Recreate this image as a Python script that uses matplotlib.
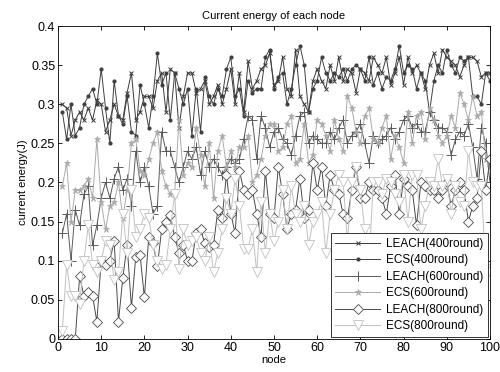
import numpy as np
import matplotlib
matplotlib.use('Agg')
import matplotlib.pyplot as plt
from matplotlib.ticker import FuncFormatter

plt.rcParams['font.family'] = ['Liberation Sans', 'DejaVu Sans']

node = np.arange(1, 101)

leach_400 = [0.30, 0.295, 0.26, 0.28, 0.29, 0.28, 0.295, 0.28, 0.305, 0.30,
             0.265, 0.28, 0.30, 0.285, 0.28, 0.315, 0.34, 0.28, 0.29, 0.31,
             0.31, 0.295, 0.33, 0.34, 0.29, 0.345, 0.34, 0.27, 0.31, 0.34,
             0.34, 0.315, 0.32, 0.33, 0.30, 0.31, 0.325, 0.30, 0.32, 0.345,
             0.30, 0.34, 0.29, 0.355, 0.32, 0.33, 0.345, 0.35, 0.365, 0.325,
             0.33, 0.36, 0.32, 0.31, 0.37, 0.31, 0.30, 0.29, 0.33, 0.345,
             0.33, 0.32, 0.35, 0.33, 0.36, 0.33, 0.345, 0.34, 0.315, 0.345,
             0.34, 0.33, 0.36, 0.35, 0.34, 0.36, 0.325, 0.34, 0.36, 0.325,
             0.36, 0.34, 0.35, 0.34, 0.32, 0.35, 0.365, 0.34, 0.37, 0.36,
             0.355, 0.35, 0.335, 0.35, 0.36, 0.36, 0.355, 0.335, 0.34, 0.34]

ecs_400 = [0.29, 0.255, 0.30, 0.26, 0.27, 0.30, 0.31, 0.32, 0.30, 0.345,
           0.295, 0.25, 0.33, 0.285, 0.275, 0.31, 0.265, 0.26, 0.325, 0.30,
           0.27, 0.31, 0.365, 0.325, 0.34, 0.28, 0.34, 0.32, 0.30, 0.32,
           0.26, 0.32, 0.265, 0.335, 0.31, 0.30, 0.32, 0.31, 0.345, 0.36,
           0.31, 0.32, 0.285, 0.33, 0.315, 0.32, 0.32, 0.36, 0.37, 0.32,
           0.335, 0.34, 0.30, 0.32, 0.35, 0.375, 0.35, 0.29, 0.32, 0.33,
           0.36, 0.34, 0.33, 0.34, 0.335, 0.345, 0.33, 0.345, 0.35, 0.345,
           0.33, 0.36, 0.325, 0.34, 0.32, 0.335, 0.33, 0.345, 0.375, 0.34,
           0.35, 0.345, 0.32, 0.34, 0.33, 0.29, 0.33, 0.35, 0.34, 0.37,
           0.35, 0.34, 0.36, 0.355, 0.36, 0.31, 0.31, 0.30, 0.34, 0.33]

leach_600 = [0.135, 0.16, 0.10, 0.165, 0.145, 0.185, 0.195, 0.12, 0.145, 0.18,
             0.20, 0.18, 0.205, 0.22, 0.19, 0.205, 0.17, 0.24, 0.20, 0.22,
             0.195, 0.16, 0.17, 0.265, 0.24, 0.24, 0.22, 0.20, 0.22, 0.24,
             0.23, 0.245, 0.21, 0.24, 0.22, 0.23, 0.22, 0.21, 0.22, 0.23,
             0.225, 0.23, 0.255, 0.285, 0.28, 0.23, 0.285, 0.27, 0.245, 0.265,
             0.27, 0.255, 0.25, 0.235, 0.26, 0.285, 0.29, 0.25, 0.26, 0.255,
             0.25, 0.25, 0.265, 0.255, 0.27, 0.28, 0.25, 0.26, 0.265, 0.275,
             0.25, 0.225, 0.26, 0.25, 0.255, 0.26, 0.27, 0.255, 0.265, 0.28,
             0.285, 0.27, 0.275, 0.265, 0.265, 0.29, 0.28, 0.27, 0.27, 0.265,
             0.235, 0.255, 0.265, 0.26, 0.275, 0.245, 0.205, 0.27, 0.25, 0.20]

ecs_600 = [0.195, 0.225, 0.15, 0.19, 0.19, 0.195, 0.205, 0.18, 0.255, 0.175,
           0.14, 0.17, 0.175, 0.20, 0.155, 0.19, 0.25, 0.255, 0.215, 0.21,
           0.23, 0.25, 0.265, 0.215, 0.195, 0.185, 0.185, 0.28, 0.21, 0.225,
           0.22, 0.27, 0.235, 0.195, 0.25, 0.18, 0.24, 0.26, 0.22, 0.24,
           0.22, 0.245, 0.245, 0.26, 0.20, 0.21, 0.23, 0.26, 0.275, 0.275,
           0.24, 0.245, 0.275, 0.285, 0.225, 0.23, 0.275, 0.225, 0.235, 0.28,
           0.275, 0.26, 0.24, 0.28, 0.255, 0.24, 0.31, 0.295, 0.265, 0.25,
           0.285, 0.295, 0.255, 0.25, 0.27, 0.285, 0.23, 0.26, 0.245, 0.225,
           0.29, 0.25, 0.285, 0.29, 0.255, 0.295, 0.28, 0.26, 0.25, 0.26,
           0.285, 0.27, 0.315, 0.30, 0.28, 0.31, 0.285, 0.29, 0.23, 0.22]

leach_800 = [0.0, 0.0, 0.0, 0.0, 0.08, 0.055, 0.06, 0.055, 0.022, 0.10,
             0.095, 0.10, 0.125, 0.022, 0.078, 0.12, 0.04, 0.105, 0.107, 0.053,
             0.13, 0.122, 0.093, 0.14, 0.15, 0.158, 0.13, 0.11, 0.12, 0.10,
             0.10, 0.135, 0.14, 0.122, 0.118, 0.12, 0.165, 0.155, 0.21, 0.16,
             0.135, 0.215, 0.19, 0.185, 0.19, 0.16, 0.13, 0.215, 0.16, 0.155,
             0.22, 0.185, 0.14, 0.16, 0.165, 0.205, 0.155, 0.165, 0.225, 0.19,
             0.22, 0.17, 0.21, 0.19, 0.185, 0.16, 0.155, 0.19, 0.22, 0.18,
             0.18, 0.20, 0.19, 0.19, 0.18, 0.16, 0.195, 0.21, 0.16, 0.205,
             0.195, 0.19, 0.145, 0.20, 0.195, 0.19, 0.19, 0.18, 0.19, 0.20,
             0.17, 0.19, 0.20, 0.19, 0.15, 0.17, 0.18, 0.24, 0.19, 0.23]

ecs_800 = [0.01, 0.095, 0.055, 0.055, 0.045, 0.10, 0.145, 0.095, 0.085, 0.10,
           0.125, 0.12, 0.075, 0.085, 0.16, 0.11, 0.19, 0.13, 0.14, 0.16,
           0.155, 0.12, 0.10, 0.09, 0.095, 0.14, 0.185, 0.09, 0.14, 0.12,
           0.125, 0.13, 0.11, 0.10, 0.13, 0.085, 0.11, 0.14, 0.18, 0.16,
           0.205, 0.17, 0.115, 0.115, 0.14, 0.085, 0.175, 0.11, 0.16, 0.125,
           0.15, 0.19, 0.14, 0.195, 0.16, 0.15, 0.17, 0.12, 0.15, 0.16,
           0.175, 0.11, 0.16, 0.19, 0.21, 0.20, 0.125, 0.20, 0.22, 0.19,
           0.14, 0.10, 0.20, 0.20, 0.185, 0.205, 0.20, 0.185, 0.175, 0.21,
           0.15, 0.21, 0.21, 0.14, 0.17, 0.20, 0.195, 0.23, 0.195, 0.205,
           0.16, 0.195, 0.175, 0.17, 0.24, 0.20, 0.195, 0.195, 0.09, 0.085]

fig = plt.figure(figsize=(5.0, 3.72), dpi=100)
ax = fig.add_axes([0.116, 0.089, 0.864, 0.841])

lw = 0.7
ax.plot(node, leach_400, color='#3a3a3a', lw=lw, marker='x', ms=3.5, mew=0.7,
        label='LEACH(400round)')
ax.plot(node, ecs_400, color='#404040', lw=lw, marker='.', ms=4,
        label='ECS(400round)')
ax.plot(node, leach_600, color='#5a5a5a', lw=lw, marker='+', ms=7, mew=0.7,
        label='LEACH(600round)')
ax.plot(node, ecs_600, color='#aaaaaa', lw=lw, marker='*', ms=5, mew=0.5,
        label='ECS(600round)')
ax.plot(node, leach_800, color='#4a4a4a', lw=lw, marker='D', ms=4.8, mew=0.6,
        mfc='white', label='LEACH(800round)')
ax.plot(node, ecs_800, color='#c0c0c0', lw=lw, marker='v', ms=7, mew=0.6,
        mfc='white', label='ECS(800round)')

ax.set_xlim(0, 100)
ax.set_ylim(0, 0.4)
ax.set_xticks(np.arange(0, 101, 10))
ax.set_yticks(np.arange(0, 0.401, 0.05))
ax.yaxis.set_major_formatter(FuncFormatter(lambda v, p: ('%g' % round(v, 2))))
ax.tick_params(direction='in', top=True, right=True, labelsize=9, length=3,
               width=0.6, pad=2)
for s in ax.spines.values():
    s.set_linewidth(0.6)

ax.set_title('Current energy of each node', fontsize=8, pad=5)
ax.set_xlabel('node', fontsize=8, labelpad=1)
ax.set_ylabel('current energy(J)', fontsize=8, labelpad=2)

leg = ax.legend(loc='lower right', fontsize=8.5, fancybox=False,
                edgecolor='#333333', framealpha=1, borderaxespad=0.15,
                handlelength=3.8, labelspacing=0.38, borderpad=0.4,
                handletextpad=0.5)
leg.get_frame().set_linewidth(0.7)

fig.savefig('out.png', dpi=100)
